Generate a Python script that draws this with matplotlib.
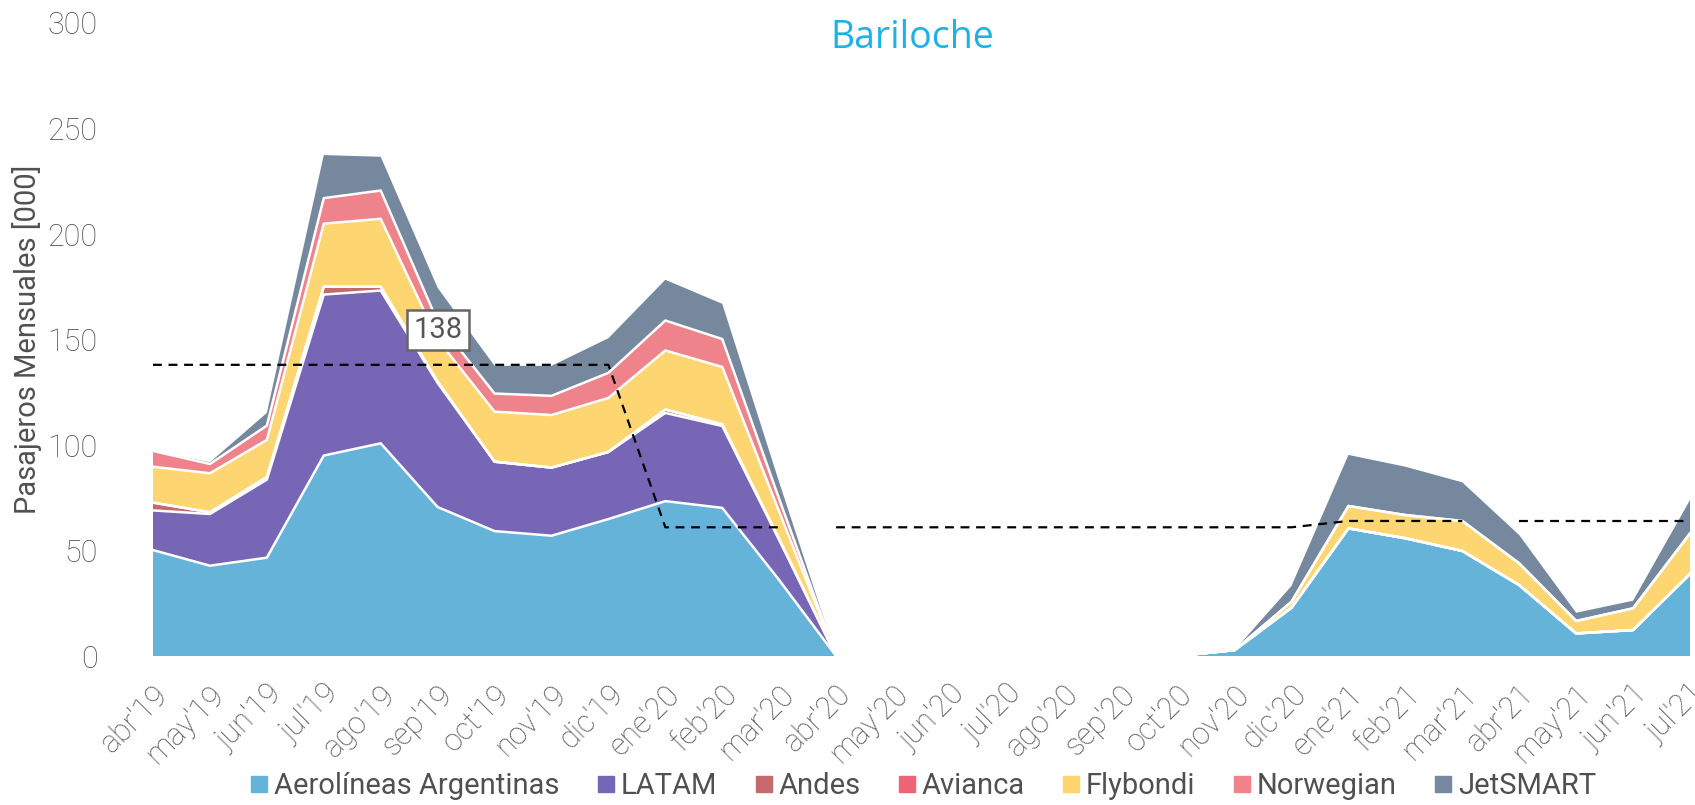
import matplotlib
matplotlib.use("Agg")
import matplotlib.pyplot as plt
from matplotlib.lines import Line2D
import numpy as np

months = ["abr'19", "may'19", "jun'19", "jul'19", "ago'19", "sep'19", "oct'19", "nov'19",
          "dic'19", "ene'20", "feb'20", "mar'20", "abr'20", "may'20", "jun'20", "jul'20",
          "ago'20", "sep'20", "oct'20", "nov'20", "dic'20", "ene'21", "feb'21", "mar'21",
          "abr'21", "may'21", "jun'21", "jul'21"]

aerolineas = [50.2, 42.8, 46.6, 95.0, 100.8, 70.6, 59.2, 57.0, 64.9, 73.4, 70.2, 36.0, 0, 0,
              0, 0, 0, 0, 0, 2.8, 22.9, 60.5, 55.8, 49.8, 33.6, 10.7, 12.3, 38.9]
latam = [18.8, 24.5, 37.0, 76.3, 72.4, 58.8, 32.9, 32.3, 31.8, 41.8, 38.8, 19.0, 0, 0,
         0, 0, 0, 0, 0, 0, 0, 0, 0, 0, 0, 0, 0, 0]
andes = [3.7, 0.8, 1.2, 3.7, 1.8, 0.6, 0, 0, 0, 1.6, 0.8, 0.4, 0, 0,
         0, 0, 0, 0, 0, 0, 0, 0, 0, 0, 0, 0, 0, 0]
avianca = [0, 0, 0, 0, 0, 0, 0, 0, 0, 0, 0, 0, 0, 0,
           0, 0, 0, 0, 0, 0, 0, 0, 0, 0, 0, 0, 0, 0]
flybondi = [17.0, 18.5, 17.6, 29.9, 32.2, 20.0, 23.7, 24.9, 25.6, 28.0, 27.2, 13.0, 0, 0,
            0, 0, 0, 0, 0, 0, 2.8, 10.6, 11.0, 14.2, 10.3, 5.9, 10.3, 19.2]
norwegian = [7.5, 4.4, 6.8, 12.1, 13.4, 8.5, 8.6, 9.1, 11.9, 14.2, 13.2, 6.0, 0, 0,
             0, 0, 0, 0, 0, 0, 0, 0, 0, 0, 0, 0, 0, 0]
jetsmart = [0, 0.8, 6.0, 20.4, 16.0, 16.0, 13.1, 14.2, 16.4, 19.3, 16.7, 8.0, 0, 0,
            0, 0, 0, 0, 0, 0, 7.5, 24.2, 22.9, 18.3, 13.4, 3.9, 3.6, 15.8]

series_names = ["Aerolíneas Argentinas", "LATAM", "Andes", "Avianca", "Flybondi",
                "Norwegian", "JetSMART"]
colors = ["#66b3da", "#7766b5", "#c46a6c", "#ee6476", "#fdd672", "#ef838b", "#75889d"]

# dashed average line, drawn in three segments
avg_x1 = [0, 1, 2, 3, 4, 5, 6, 7, 8, 9, 10, 11]
avg_y1 = [138, 138, 138, 138, 138, 138, 138, 138, 138, 61, 61, 61]
avg_x2 = [12, 13, 14, 15, 16, 17, 18, 19, 20, 21, 22, 23]
avg_y2 = [61, 61, 61, 61, 61, 61, 61, 61, 61, 64, 64, 64]
avg_x3 = [24, 25, 26, 27]
avg_y3 = [64, 64, 64, 64]
label_value = "138"

plt.rcParams['font.family'] = ['Roboto', 'DejaVu Sans']
fig = plt.figure(figsize=(16.95, 8.05), dpi=100)
ax = fig.add_axes([153 / 1695, (805 - 656) / 805, (1690 - 153) / 1695, (656 - 23) / 805])

x = np.arange(len(months))
data = [aerolineas, latam, andes, avianca, flybondi, norwegian, jetsmart]
ax.stackplot(x, *data, colors=colors, linewidth=0)
cum = np.cumsum(np.array(data, dtype=float), axis=0)
for i in range(len(data) - 1):
    ax.plot(x, cum[i], color="white", lw=1.8, zorder=3)

for xs, ys in [(avg_x1, avg_y1), (avg_x2, avg_y2), (avg_x3, avg_y3)]:
    ax.plot(xs, ys, color="black", lw=1.6, ls=(0, (4, 3)), zorder=4)

ax.text(5, 154.5, label_value, fontsize=21, color="#555555", ha="center", va="center",
        zorder=5, bbox=dict(boxstyle="square,pad=0.22", fc="white", ec="#666666", lw=1.8))

ax.set_xlim(0, 27)
ax.set_ylim(0, 300)
ax.set_yticks([0, 50, 100, 150, 200, 250, 300])
ax.set_xticks(x)
ax.set_xticklabels(months, rotation=45, ha="right", rotation_mode="anchor",
                   fontsize=22, color="#505050", fontweight="light")
for lab in ax.get_yticklabels():
    lab.set_fontsize(22)
    lab.set_color("#505050")
    lab.set_fontweight("light")
ax.tick_params(axis="y", length=0, pad=40)
ax.tick_params(axis="x", length=0, pad=17)
for s in ax.spines.values():
    s.set_visible(False)

ax.set_ylabel("Pasajeros Mensuales [000]", fontsize=21, color="#505050")
ax.yaxis.set_label_coords(-0.072, 0.5)

fig.text(912 / 1695, 1 - 38 / 805, "Bariloche", fontsize=27, color="#1db1e6",
         ha="center", va="center", family=["Open Sans", "DejaVu Sans"])

handles = [Line2D([0], [0], marker="s", ls="none", color=c, markersize=11) for c in colors]
fig.legend(handles, series_names, loc="center", bbox_to_anchor=(922 / 1695, 1 - 786 / 805),
           ncol=7, frameon=False, fontsize=21, handletextpad=0.1, columnspacing=1.2,
           labelcolor="#505050", handlelength=0.8)

fig.savefig("out.png", dpi=100)
